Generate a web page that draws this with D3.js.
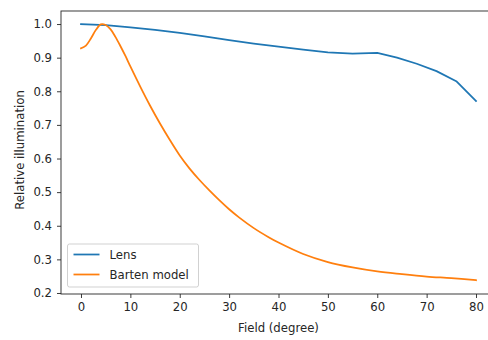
<!DOCTYPE html>
<html>
<head>
<meta charset="utf-8">
<script src="https://cdn.jsdelivr.net/npm/d3@7"></script>
<style>
  body { margin: 0; background: #fff; }
  svg { font-family: "DejaVu Sans", sans-serif; }
</style>
</head>
<body>
<div id="chart"></div>
<script>
const lensField = [0, 5, 10, 15, 20, 25, 30, 35, 40, 45, 50, 55, 60, 64, 68, 72, 76, 80];
const lensValues = [1.0, 0.997, 0.99, 0.983, 0.974, 0.963, 0.952, 0.942, 0.933, 0.924, 0.916, 0.912, 0.914, 0.9, 0.882, 0.86, 0.83, 0.771];

const bartenField = [0, 1, 2, 3, 4, 5, 6, 7, 8, 9, 10, 12, 14, 16, 18, 20, 22, 24, 26, 28, 30, 32, 35, 38, 40, 45, 50, 55, 60, 65, 70, 75, 80];
const bartenValues = [0.928, 0.936, 0.957, 0.982, 0.999, 0.997, 0.984, 0.961, 0.934, 0.905, 0.874, 0.814, 0.757, 0.704, 0.655, 0.609, 0.57, 0.536, 0.505, 0.476, 0.449, 0.425, 0.393, 0.366, 0.35, 0.316, 0.292, 0.276, 0.264, 0.256, 0.249, 0.244, 0.238];

const xTicks = [0, 10, 20, 30, 40, 50, 60, 70, 80];
const yTicks = [0.2, 0.3, 0.4, 0.5, 0.6, 0.7, 0.8, 0.9, 1.0];

const seriesNames = ["Lens", "Barten model"];
const seriesColors = ["#1f77b4", "#ff7f0e"];

const width = 488;
const height = 340;
const margin = { top: 11, right: -8, bottom: 46, left: 61 };
const fontSize = 11.7;

const x = d3.scaleLinear().domain([-4.05, 84.05]).range([margin.left, width - margin.right]);
const y = d3.scaleLinear().domain([0.197, 1.0388]).range([height - margin.bottom, margin.top]);

const svg = d3.select("#chart").append("svg")
  .attr("width", width)
  .attr("height", height);

const series = [
  { name: seriesNames[0], color: seriesColors[0], curve: d3.curveLinear, data: lensField.map((f, i) => ({ f, v: lensValues[i] })) },
  { name: seriesNames[1], color: seriesColors[1], curve: d3.curveCatmullRom, data: bartenField.map((f, i) => ({ f, v: bartenValues[i] })) },
];

svg.append("g")
  .attr("fill", "none")
  .selectAll("path")
  .data(series)
  .join("path")
  .attr("stroke", (d) => d.color)
  .attr("stroke-width", 1.75)
  .attr("stroke-linejoin", "round")
  .attr("stroke-linecap", "square")
  .attr("d", (d) => d3.line().curve(d.curve).x((p) => x(p.f)).y((p) => y(p.v))(d.data));

const xAxis = svg.append("g")
  .attr("transform", `translate(0,${height - margin.bottom})`)
  .call(d3.axisBottom(x).tickValues(xTicks).tickSize(4).tickPadding(5).tickFormat(d3.format("d")));

const yAxis = svg.append("g")
  .attr("transform", `translate(${margin.left},0)`)
  .call(d3.axisLeft(y).tickValues(yTicks).tickSize(4).tickPadding(5).tickFormat(d3.format(".1f")));

[xAxis, yAxis].forEach((a) => {
  a.select(".domain").remove();
  a.selectAll("text").attr("font-size", fontSize).attr("fill", "#262626").attr("font-family", "DejaVu Sans");
  a.selectAll(".tick line").attr("stroke", "#262626").attr("stroke-width", 0.9);
});

// spines
svg.append("rect")
  .attr("x", margin.left)
  .attr("y", margin.top)
  .attr("width", width - margin.right - margin.left)
  .attr("height", height - margin.bottom - margin.top)
  .attr("fill", "none")
  .attr("stroke", "#262626")
  .attr("stroke-width", 0.9);

svg.append("text")
  .attr("x", (margin.left + 496) / 2)
  .attr("y", 332)
  .attr("text-anchor", "middle")
  .attr("font-size", fontSize)
  .attr("fill", "#262626")
  .text("Field (degree)");

svg.append("text")
  .attr("transform", `translate(24,150) rotate(-90)`)
  .attr("text-anchor", "middle")
  .attr("font-size", fontSize)
  .attr("fill", "#262626")
  .text("Relative illumination");

// legend
const legend = svg.append("g").attr("transform", "translate(67.5,244)");
legend.append("rect")
  .attr("width", 131)
  .attr("height", 43)
  .attr("rx", 2)
  .attr("fill", "#fff")
  .attr("fill-opacity", 0.8)
  .attr("stroke", "#ccc")
  .attr("stroke-width", 0.9);

const item = legend.selectAll(".item")
  .data(series)
  .join("g")
  .attr("class", "item")
  .attr("transform", (d, i) => `translate(0,${10.5 + i * 20})`);

item.append("line")
  .attr("x1", 6).attr("x2", 32)
  .attr("stroke", (d) => d.color)
  .attr("stroke-width", 1.75);

item.append("text")
  .attr("x", 42)
  .attr("dy", "0.35em")
  .attr("font-size", fontSize)
  .attr("fill", "#262626")
  .text((d) => d.name);
</script>
</body>
</html>
